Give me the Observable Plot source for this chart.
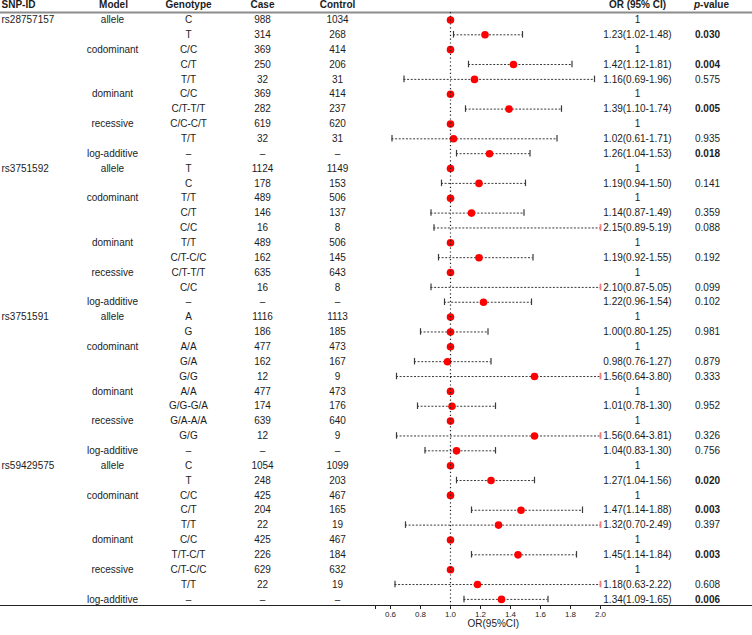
<!DOCTYPE html>
<html>
<head>
<meta charset="utf-8">
<script src="https://cdn.jsdelivr.net/npm/d3@7"></script>
<script src="https://cdn.jsdelivr.net/npm/@observablehq/plot@0.6"></script>
<style>
  html, body { margin: 0; padding: 0; background: #fff; }
  #chart { width: 752px; height: 635px; }
</style>
</head>
<body>
<div id="chart"></div>
<script>
// ---------------- data ----------------
const snps = ["rs28757157", "rs3751592", "rs3751591", "rs59429575"];
const models = ["allele", "", "codominant", "", "", "dominant", "", "recessive", "", "log-additive"];

const genotypes = [
  "C", "T", "C/C", "C/T", "T/T", "C/C", "C/T-T/T", "C/C-C/T", "T/T", "–",
  "T", "C", "T/T", "C/T", "C/C", "T/T", "C/T-C/C", "C/T-T/T", "C/C", "–",
  "A", "G", "A/A", "G/A", "G/G", "A/A", "G/G-G/A", "G/A-A/A", "G/G", "–",
  "C", "T", "C/C", "C/T", "T/T", "C/C", "T/T-C/T", "C/T-C/C", "T/T", "–"
];
const cases = [
  "988", "314", "369", "250", "32", "369", "282", "619", "32", "–",
  "1124", "178", "489", "146", "16", "489", "162", "635", "16", "–",
  "1116", "186", "477", "162", "12", "477", "174", "639", "12", "–",
  "1054", "248", "425", "204", "22", "425", "226", "629", "22", "–"
];
const controls = [
  "1034", "268", "414", "206", "31", "414", "237", "620", "31", "–",
  "1149", "153", "506", "137", "8", "506", "145", "643", "8", "–",
  "1113", "185", "473", "167", "9", "473", "176", "640", "9", "–",
  "1099", "203", "467", "165", "19", "467", "184", "632", "19", "–"
];
const ors = [
  1, 1.23, 1, 1.42, 1.16, 1, 1.39, 1, 1.02, 1.26,
  1, 1.19, 1, 1.14, 2.15, 1, 1.19, 1, 2.10, 1.22,
  1, 1.00, 1, 0.98, 1.56, 1, 1.01, 1, 1.56, 1.04,
  1, 1.27, 1, 1.47, 1.32, 1, 1.45, 1, 1.18, 1.34
];
const lows = [
  null, 1.02, null, 1.12, 0.69, null, 1.10, null, 0.61, 1.04,
  null, 0.94, null, 0.87, 0.89, null, 0.92, null, 0.87, 0.96,
  null, 0.80, null, 0.76, 0.64, null, 0.78, null, 0.64, 0.83,
  null, 1.04, null, 1.14, 0.70, null, 1.14, null, 0.63, 1.09
];
const highs = [
  null, 1.48, null, 1.81, 1.96, null, 1.74, null, 1.71, 1.53,
  null, 1.50, null, 1.49, 5.19, null, 1.55, null, 5.05, 1.54,
  null, 1.25, null, 1.27, 3.80, null, 1.30, null, 3.81, 1.30,
  null, 1.56, null, 1.88, 2.49, null, 1.84, null, 2.22, 1.65
];
const pvalues = [
  null, 0.030, null, 0.004, 0.575, null, 0.005, null, 0.935, 0.018,
  null, 0.141, null, 0.359, 0.088, null, 0.192, null, 0.099, 0.102,
  null, 0.981, null, 0.879, 0.333, null, 0.952, null, 0.326, 0.756,
  null, 0.020, null, 0.003, 0.397, null, 0.003, null, 0.608, 0.006
];
const headers = ["SNP-ID", "Model", "Genotype", "Case", "Control", "OR (95% CI)", "p-value"];
const xTicks = [0.5, 0.6, 0.8, 1.0, 1.2, 1.4, 1.6, 1.8, 2.0];
const axisTitle = "OR(95%CI)";

// ---------------- table built from the arrays ----------------
const rows = genotypes.map((g, i) => ({
  row: i,
  snp: i % 10 === 0 ? snps[i / 10] : "",
  model: models[i % 10],
  genotype: g,
  case: cases[i],
  control: controls[i],
  or: ors[i],
  lo: lows[i],
  hi: highs[i],
  p: pvalues[i],
  orText: lows[i] == null ? "1" : `${ors[i].toFixed(2)}(${lows[i].toFixed(2)}-${highs[i].toFixed(2)})`,
  pText: pvalues[i] == null ? "" : pvalues[i].toFixed(3)
}));

// ---------------- layout ----------------
const XMAX = 2.0;
const colX = {snp: 1, model: 112, genotype: 188, case: 262, control: 337, orText: 637, pText: 707};
const headerX = [1, 113, 188, 262, 337, 637, 711];
const headerRow = -1;
const capHalf = 0.22;
const textColor = "#1c1c1c";
const font = "'Liberation Sans', Arial, Helvetica, sans-serif";

const withCI = rows.filter(d => d.lo != null);
const clipped = withCI.filter(d => d.hi > XMAX);
const unclipped = withCI.filter(d => d.hi <= XMAX);

const col = (data, field, anchor = "middle", extra = {}) =>
  Plot.text(data, {y: "row", text: field, frameAnchor: "left", dx: colX[field], textAnchor: anchor, fill: textColor, ...extra});

const headerMarks = headers.map((h, i) =>
  Plot.text([h], {
    y: () => headerRow, text: d => d, frameAnchor: "left",
    dx: headerX[i], textAnchor: i === 0 ? "start" : "middle", fontWeight: "bold", fill: textColor
  })
);

const chart = Plot.plot({
  width: 752,
  height: 635,
  marginTop: 12,
  marginBottom: 30,
  marginLeft: 0,
  marginRight: 0,
  style: {fontFamily: font, fontSize: "10px", background: "#fff", color: textColor},
  x: {domain: [0.5, XMAX], range: [375, 600]},
  y: {domain: [-1, 39], range: [4.6, 598.9], axis: null},
  marks: [
    // top (header) line and bottom axis line
    Plot.frame({anchor: "top", stroke: "#8c8c8c", strokeWidth: 2}),
    Plot.frame({anchor: "bottom", stroke: "#222"}),
    ...headerMarks,
    // CI whiskers
    Plot.ruleY(withCI, {y: "row", x1: "lo", x2: d => Math.min(d.hi, XMAX), stroke: "#3a3a3a", strokeDasharray: "2,1.6", strokeWidth: 1}),
    Plot.ruleX(withCI, {x: "lo", y1: d => d.row - capHalf, y2: d => d.row + capHalf, stroke: "#3a3a3a", strokeWidth: 1.2}),
    Plot.ruleX(unclipped, {x: "hi", y1: d => d.row - capHalf, y2: d => d.row + capHalf, stroke: "#3a3a3a", strokeWidth: 1.2}),
    Plot.ruleX(clipped, {x: () => XMAX, y1: d => d.row - capHalf, y2: d => d.row + capHalf, stroke: "#f27c7c", strokeWidth: 1.8}),
    // points
    Plot.dot(rows.filter(d => d.or <= XMAX), {x: "or", y: "row", r: 3.8, fill: "#ff0000", stroke: "none"}),
    // null line
    Plot.ruleX([1], {stroke: "#222", strokeDasharray: "1.2,2.6", strokeWidth: 1.2}),
    // axis
    Plot.axisX({ticks: xTicks, tickFormat: d => d === 0.5 ? "" : d.toFixed(1), tickSize: 4, tickPadding: 2, fontSize: 8, label: null, stroke: "#222", fill: textColor}),
    Plot.text([axisTitle], {frameAnchor: "bottom-left", dx: 467, dy: 21.5, fill: textColor, fontSize: 10}),
    // table columns
    col(rows, "snp", "start"),
    col(rows, "model"),
    col(rows, "genotype"),
    col(rows, "case"),
    col(rows, "control"),
    col(rows, "orText"),
    col(rows.filter(d => d.p != null && d.p >= 0.05), "pText"),
    col(rows.filter(d => d.p != null && d.p < 0.05), "pText", "middle", {fontWeight: "bold"})
  ]
});

// italic "p" in the p-value header
d3.select(chart).selectAll("text").filter(function () { return this.textContent === "p-value"; })
  .each(function () {
    const t = d3.select(this);
    t.text(null);
    t.append("tspan").attr("font-style", "italic").text("p");
    t.append("tspan").text("-value");
  });

document.getElementById("chart").appendChild(chart);
</script>
</body>
</html>
